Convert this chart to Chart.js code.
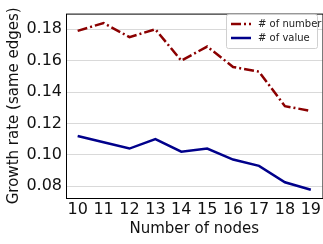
<!DOCTYPE html>
<html>
<head>
<meta charset="utf-8">
<script src="https://cdn.jsdelivr.net/npm/chart.js@4"></script>
<style>
  html, body { margin: 0; padding: 0; background: #fff; }
  #wrap { width: 323px; height: 244px; }
</style>
</head>
<body>
<div id="wrap"><canvas id="growth-chart" width="323" height="244"></canvas></div>
<script>
'use strict';

// data
var nodes = [10, 11, 12, 13, 14, 15, 16, 17, 18, 19];
var numberRate = [0.179, 0.184, 0.175, 0.180, 0.160, 0.169, 0.156, 0.153, 0.131, 0.128];
var valueRate = [0.112, 0.108, 0.104, 0.110, 0.102, 0.104, 0.097, 0.093, 0.0825, 0.0778];
var yTicks = [0.08, 0.10, 0.12, 0.14, 0.16, 0.18];
var seriesNames = ['# of number', '# of value'];

var font = 'DejaVu Sans';

function toPoints(vals) {
    return nodes.map(function (n, i) { return { x: n, y: vals[i] }; });
}

// frame round the plot + legend inside top right
var framePlugin = {
    id: 'frame',
    afterDraw: function (chart) {
        var ctx = chart.ctx, a = chart.chartArea;
        ctx.save();
        ctx.strokeStyle = '#000';
        ctx.lineWidth = 1;
        ctx.strokeRect(a.left + 0.5, a.top + 0.5, a.right - a.left, a.bottom - a.top);

        // legend box
        var bx = 226, by = 14, bw = 91, bh = 34;
        ctx.fillStyle = 'rgba(255,255,255,0.85)';
        ctx.strokeStyle = '#d0d0d0';
        ctx.beginPath();
        ctx.roundRect(bx + 0.5, by + 0.5, bw, bh, 2);
        ctx.fill();
        ctx.stroke();

        ctx.font = '10px "' + font + '"';
        ctx.textBaseline = 'middle';
        chart.data.datasets.forEach(function (ds, i) {
            var y = by + 10 + i * 14;
            ctx.strokeStyle = ds.borderColor;
            ctx.lineWidth = 2.5;
            ctx.setLineDash(ds.borderDash || []);
            ctx.beginPath();
            ctx.moveTo(bx + 5, y);
            ctx.lineTo(bx + 25, y);
            ctx.stroke();
            ctx.setLineDash([]);
            ctx.fillStyle = '#222';
            ctx.fillText(seriesNames[i], bx + 32, y);
        });
        ctx.restore();
    }
};

new Chart(document.getElementById('growth-chart'), {
    type: 'line',
    data: {
        datasets: [{
            data: toPoints(numberRate),
            label: seriesNames[0],
            borderColor: '#8b0000',
            borderWidth: 2.5,
            borderDash: [10, 3, 2, 3],
            fill: false,
            pointRadius: 0,
            tension: 0
        }, {
            data: toPoints(valueRate),
            label: seriesNames[1],
            borderColor: '#00008b',
            borderWidth: 2.5,
            fill: false,
            pointRadius: 0,
            tension: 0
        }]
    },
    options: {
        responsive: false,
        animation: false,
        devicePixelRatio: 1,
        layout: { padding: { top: 12, right: 0, left: 5, bottom: 6 } },
        plugins: {
            legend: { display: false },
            tooltip: { enabled: false }
        },
        scales: {
            x: {
                type: 'linear',
                min: 9.55,
                max: 19.45,
                afterBuildTicks: function (scale) {
                    scale.ticks = nodes.map(function (n) { return { value: n }; });
                },
                afterFit: function (scale) { scale.height = 40; },
                grid: { display: false, drawTicks: false, tickLength: 0 },
                border: { display: false },
                ticks: {
                    color: '#111',
                    font: { family: font, size: 16 },
                    padding: 2,
                    maxRotation: 0,
                    autoSkip: false
                },
                title: {
                    display: true,
                    text: 'Number of nodes',
                    color: '#111',
                    font: { family: font, size: 15 },
                    padding: { top: 0, bottom: 0 }
                }
            },
            y: {
                type: 'linear',
                min: 0.0725,
                max: 0.19,
                afterBuildTicks: function (scale) {
                    scale.ticks = yTicks.map(function (v) { return { value: v }; });
                },
                afterFit: function (scale) { scale.width = 61; },
                grid: { color: '#d9d9d9', lineWidth: 1, drawTicks: false },
                border: { display: false },
                ticks: {
                    color: '#111',
                    font: { family: font, size: 16 },
                    padding: 4,
                    callback: function (v) { return v.toFixed(2); }
                },
                title: {
                    display: true,
                    text: 'Growth rate (same edges)',
                    color: '#111',
                    font: { family: font, size: 15 },
                    padding: { top: 0, bottom: 1 }
                }
            }
        }
    },
    plugins: [framePlugin]
});
</script>
</body>
</html>
